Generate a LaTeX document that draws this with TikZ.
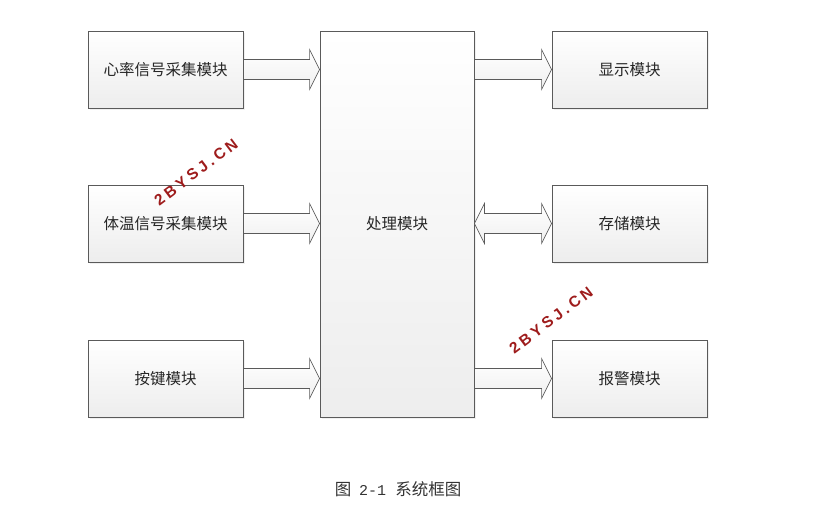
\documentclass[tikz,border=0pt]{standalone}
\usepackage{fontspec}
\setmainfont{Liberation Serif}
\newfontfamily\cjk{Noto Sans CJK SC}
\newfontfamily\capmono{Liberation Mono}
\newfontfamily\wmfont[LetterSpace=22]{Liberation Sans Bold}
\usetikzlibrary{calc,shadows}
\definecolor{edge}{HTML}{5A5A5A}
\definecolor{wm}{HTML}{9E1C1C}
\tikzset{
  modbox/.style={draw=edge, line width=0.8pt, top color=white, bottom color=gray!14,
    drop shadow={opacity=0.12, shadow xshift=2pt, shadow yshift=-2pt},
    minimum width=155pt, minimum height=77pt, inner sep=0pt,
    font=\cjk\fontsize{15.5}{16}\selectfont, text=black!85},
  bigbox/.style={modbox, minimum height=386pt, minimum width=154pt},
  blockarr/.style={draw=edge, line width=0.7pt, top color=white, bottom color=gray!12, line join=miter},
  watermark/.style={text=wm, font=\wmfont\fontsize{15.5}{16}\selectfont, rotate=37},
}
\begin{document}
\begin{tikzpicture}[x=1pt,y=-1pt]
\useasboundingbox (0,0) rectangle (836,508);
\node[modbox] (hr) at (165.5,69.5) {心率信号采集模块};
\node[modbox] (tp) at (165.5,223.5) {体温信号采集模块};
\node[modbox] (key) at (165.5,378.5) {按键模块};
\node[bigbox] (cpu) at (397,224) {处理模块};
\node[modbox] (disp) at (629.5,69.5) {显示模块};
\node[modbox] (mem) at (629.5,223.5) {存储模块};
\node[modbox] (alarm) at (629.5,378.5) {报警模块};
% single block arrows
\foreach \a/\b in {hr/cpu, tp/cpu, key/cpu} {
  \path[blockarr] let \p1=(\a.east), \p2=(\b.west) in
    (\x1,\y1+10pt) -- (\x2-10pt,\y1+10pt) -- (\x2-10pt,\y1+20pt) -- (\x2,\y1)
    -- (\x2-10pt,\y1-20pt) -- (\x2-10pt,\y1-10pt) -- (\x1,\y1-10pt) -- cycle;
}
\foreach \a/\b in {cpu/disp, cpu/alarm} {
  \path[blockarr] let \p1=(\b.west), \p2=(\b.west), \p3=(\a.east) in
    (\x3,\y1+10pt) -- (\x2-10pt,\y1+10pt) -- (\x2-10pt,\y1+20pt) -- (\x2,\y1)
    -- (\x2-10pt,\y1-20pt) -- (\x2-10pt,\y1-10pt) -- (\x3,\y1-10pt) -- cycle;
}
% double block arrow
\path[blockarr] let \p1=(mem.west), \p3=(cpu.east) in
  (\x3,\y1) -- (\x3+10pt,\y1+20pt) -- (\x3+10pt,\y1+10pt) -- (\x1-10pt,\y1+10pt)
  -- (\x1-10pt,\y1+20pt) -- (\x1,\y1) -- (\x1-10pt,\y1-20pt) -- (\x1-10pt,\y1-10pt)
  -- (\x3+10pt,\y1-10pt) -- (\x3+10pt,\y1-20pt) -- cycle;
% watermarks
\node[watermark] (wm1) at (196,172) {2BYSJ.CN};
\node[watermark] (wm2) at (551,320) {2BYSJ.CN};
% caption
\node[text=black!80, inner sep=0pt] (cap) at (398,489)
  {{\cjk\fontsize{16.5}{17}\selectfont 图}\hspace{8pt}{\capmono\fontsize{15}{16}\selectfont 2-1}\hspace{9pt}{\cjk\fontsize{16.5}{17}\selectfont 系统框图}};
\end{tikzpicture}
\end{document}
